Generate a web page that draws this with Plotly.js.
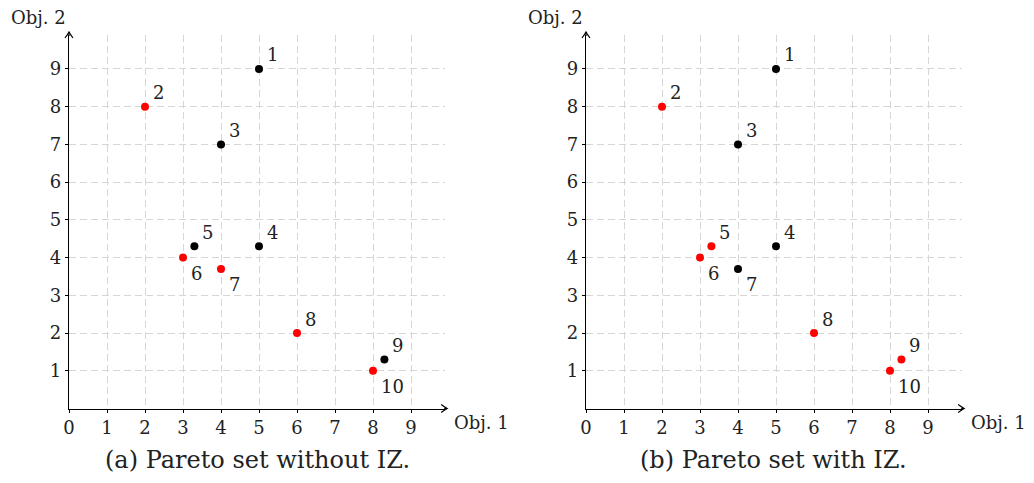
<!DOCTYPE html>
<html><head><meta charset="utf-8">
<script src="https://cdn.plot.ly/plotly-3.0.1.min.js"></script>
<style>html,body{margin:0;padding:0;background:#fff}#c{width:1034px;height:483px}</style>
</head><body><div id="c"></div>
<script>
const labels = ['1','2','3','4','5','6','7','8','9','10'];
const obj1 = [5, 2, 4, 5, 3.3, 3, 4, 6, 8.3, 8];
const obj2 = [9, 8, 7, 4.3, 4.3, 4, 3.7, 2, 1.3, 1];
const redWithoutIZ = [false, true, false, false, false, true, true, true, false, true];
const redWithIZ = [false, true, false, false, true, true, false, true, true, true];
const labelBelow = [false, false, false, false, false, true, true, false, false, true];
const xTicks = [0,1,2,3,4,5,6,7,8,9];
const yTicks = [1,2,3,4,5,6,7,8,9];
const captions = ['(a) Pareto set without IZ.', '(b) Pareto set with IZ.'];

const FONT = 'DejaVu Serif, serif';
const W = 1034, H = 483;
const dom1 = [69/W, (69+376.2)/W];
const dom2 = [586/W, (586+376.2)/W];
const ydom = [74.5/H, (H-35)/H];

function trace(flags, xa, ya) {
  return {
    x: obj1, y: obj2, type: 'scatter', mode: 'markers',
    xaxis: xa, yaxis: ya, cliponaxis: false, hoverinfo: 'skip',
    marker: {size: 8, color: flags.map(f => f ? '#ff0000' : '#000000')},
    showlegend: false
  };
}

function axisX(dom, anchor) {
  return {
    domain: dom, range: [0, 9.9], anchor: anchor,
    tickvals: xTicks, ticktext: xTicks.map(String),
    showgrid: true, gridcolor: '#d6d6d6', griddash: '7px,4px', gridwidth: 1,
    zeroline: false, showline: true, linecolor: '#000', linewidth: 1.2,
    ticks: 'outside', ticklen: 3, tickcolor: '#000',
    tickfont: {family: FONT, size: 18, color: '#222'}, fixedrange: true
  };
}
function axisY(anchor) {
  return {
    domain: ydom, range: [0, 9.9], anchor: anchor,
    tickvals: yTicks, ticktext: yTicks.map(String),
    showgrid: true, gridcolor: '#d6d6d6', griddash: '7px,4px', gridwidth: 1,
    zeroline: false, showline: true, linecolor: '#000', linewidth: 1.2,
    ticks: 'outside', ticklen: 3, tickcolor: '#000',
    tickfont: {family: FONT, size: 18, color: '#222'}, fixedrange: true
  };
}

const annotations = [];
[['x','y'],['x2','y2']].forEach(([xa, ya]) => {
  labels.forEach((t, i) => {
    annotations.push({
      x: obj1[i], y: obj2[i], xref: xa, yref: ya, text: t, showarrow: false,
      xanchor: 'left', yanchor: 'middle', xshift: 6, yshift: labelBelow[i] ? -16 : 14,
      font: {family: FONT, size: 18, color: '#222'}
    });
  });
});
// axis titles
[[dom1, 38/W], [dom2, 555/W]].forEach(([dom, ycx]) => {
  annotations.push({x: ycx, y: (H-18)/H, xref: 'paper', yref: 'paper', text: 'Obj. 2',
    showarrow: false, xanchor: 'center', yanchor: 'middle', font: {family: FONT, size: 18, color: '#222'}});
  annotations.push({x: dom[1] + 7/W, y: (H-422)/H, xref: 'paper', yref: 'paper', text: 'Obj. 1',
    showarrow: false, xanchor: 'left', yanchor: 'middle', font: {family: FONT, size: 18, color: '#222'}});
});
[[257/W, captions[0]], [773/W, captions[1]]].forEach(([cx, t]) => {
  annotations.push({x: cx, y: (H-460)/H, xref: 'paper', yref: 'paper', text: t,
    showarrow: false, xanchor: 'center', yanchor: 'middle', font: {family: FONT, size: 24, color: '#222'}});
});

const shapes = [];
[dom1, dom2].forEach(dom => {
  shapes.push({type: 'line', xref: 'paper', yref: 'paper', x0: dom[1]-1/W, x1: dom[1]+2/W, y0: ydom[0], y1: ydom[0],
    line: {color: '#000', width: 1.2}});
  shapes.push({type: 'path', xref: 'paper', yref: 'paper', xsizemode: 'pixel', ysizemode: 'pixel',
    xanchor: dom[1]+2/W, yanchor: ydom[0], path: 'M-6,4 Q-2,1 0,0 Q-2,-1 -6,-4',
    line: {color: '#000', width: 1.2}});
  shapes.push({type: 'line', xref: 'paper', yref: 'paper', x0: dom[0], x1: dom[0], y0: ydom[1]-1/H, y1: ydom[1]+3/H,
    line: {color: '#000', width: 1.2}});
  shapes.push({type: 'path', xref: 'paper', yref: 'paper', xsizemode: 'pixel', ysizemode: 'pixel',
    xanchor: dom[0], yanchor: ydom[1]+3/H, path: 'M-4,-6 Q-1,-2 0,0 Q1,-2 4,-6',
    line: {color: '#000', width: 1.2}});
});

const layout = {
  width: W, height: H, margin: {l: 0, r: 0, t: 0, b: 0},
  paper_bgcolor: '#fff', plot_bgcolor: '#fff',
  xaxis: axisX(dom1, 'y'), yaxis: axisY('x'),
  xaxis2: axisX(dom2, 'y2'), yaxis2: axisY('x2'),
  annotations: annotations, shapes: shapes, showlegend: false
};

Plotly.newPlot('c', [trace(redWithoutIZ, 'x', 'y'), trace(redWithIZ, 'x2', 'y2')], layout, {displayModeBar: false, staticPlot: true});
</script></body></html>
